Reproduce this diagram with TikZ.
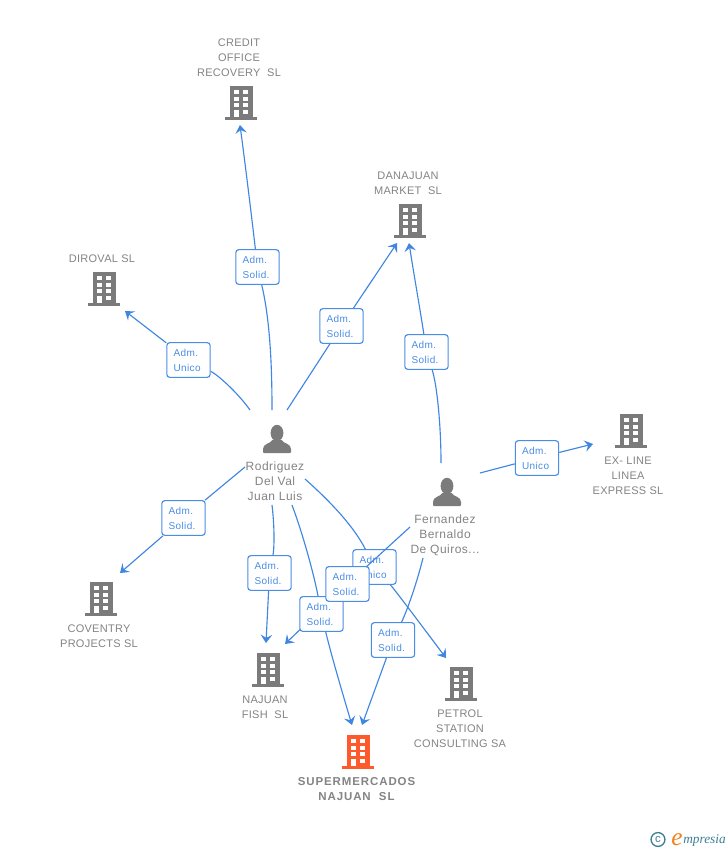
\documentclass[tikz,border=0pt]{standalone}
\usepackage{fontspec}
\setmainfont{Liberation Sans}
\newfontfamily\namefont[LetterSpace=2.5]{Liberation Sans}
\newfontfamily\spacedfont[LetterSpace=4]{Liberation Sans}
\newfontfamily\tagfont[LetterSpace=4]{Liberation Sans}
\newfontfamily\boldspaced[LetterSpace=8]{Liberation Sans Bold}
\newfontfamily\logofont{Liberation Serif Italic}
\usetikzlibrary{arrows.meta,backgrounds}
\definecolor{bgray}{HTML}{7B7B7B}
\definecolor{tgray}{HTML}{848484}
\definecolor{linkblue}{HTML}{3F86E3}
\definecolor{tagblue}{HTML}{4A8DE6}
\definecolor{hotorange}{HTML}{FF5A2B}
\definecolor{logoteal}{HTML}{3E7F96}
\definecolor{logoorange}{HTML}{F0831E}
\tikzset{
  x=0.75pt,y=-0.75pt,
  bldg/.pic={
    \fill[pic actions] (-11.5,-34) rectangle (11.5,-3);
    \fill[pic actions] (-16,-3) rectangle (16,0);
    \foreach \yy in {-30,-23.5,-17}{
      \fill[white] (-7.3,\yy) rectangle (-2.2,\yy+4);
      \fill[white] (2.3,\yy) rectangle (7.3,\yy+4);
    }
    \fill[white] (-7.3,-10.5) rectangle (-2.2,-3);
    \fill[white] (2.3,-10.5) rectangle (7.3,-6.5);
  },
  pers/.pic={
    \fill[bgray] (0,-20) ellipse [x radius=6.4,y radius=8.2];
    \fill[bgray] (-14,-1) -- (-14,-4) .. controls (-14,-9.5) and (-7,-9) .. (-4.5,-13)
      -- (4.5,-13) .. controls (7,-9) and (14,-9.5) .. (14,-4) -- (14,-1)
      .. controls (14,-0.3) and (13.5,0) .. (13,0) -- (-13,0)
      .. controls (-13.5,0) and (-14,-0.3) .. (-14,-1) -- cycle;
  },
  namelabel/.style={align=center,text=tgray,font=\fontsize{8.25pt}{11.25pt}\selectfont\namefont,inner sep=0pt},
  personlabel/.style={align=center,text=tgray,font=\fontsize{9pt}{11.25pt}\selectfont\spacedfont,inner sep=0pt},
  hotlabel/.style={align=center,text=tgray,font=\fontsize{8.6pt}{11.25pt}\selectfont\boldspaced,inner sep=0pt},
  tag/.style={draw=tagblue,fill=white,rounded corners=2.2pt,line width=0.85pt,
    minimum width=32.5pt,minimum height=26pt,inner xsep=5pt,inner ysep=0pt,
    text width=22.5pt,align=left,text=tagblue,font=\fontsize{7.5pt}{11.25pt}\selectfont\tagfont},
  link/.style={draw=linkblue,line width=0.85pt},
  arrowlink/.style={link,-{Stealth[length=6.2pt,width=8.6pt,inset=2.4pt]}},
}
\begin{document}
\begin{tikzpicture}
\useasboundingbox (0,0) rectangle (728,850);
\begin{scope}[on background layer]
  \fill[white] (0,0) rectangle (728,850);
\end{scope}

% company icons
\pic[fill=bgray] at (241,120) {bldg};
\pic[fill=bgray] at (410,238) {bldg};
\pic[fill=bgray] at (104,306) {bldg};
\pic[fill=bgray] at (631,448) {bldg};
\pic[fill=bgray] at (101,616) {bldg};
\pic[fill=bgray] at (268,687) {bldg};
\pic[fill=bgray] at (461,701) {bldg};
\pic[fill=hotorange] at (358,769) {bldg};
% person icons
\pic at (277,453) {pers};
\pic at (447,506) {pers};

% names
\node[namelabel] (credit) at (239,58) {CREDIT\\OFFICE\\RECOVERY\ \ SL};
\node[namelabel] (danajuan) at (408,183) {DANAJUAN\\MARKET\ \ SL};
\node[namelabel] (diroval) at (102,259) {DIROVAL SL};
\node[namelabel] (exline) at (628,476) {EX- LINE\\LINEA\\EXPRESS SL};
\node[namelabel] (coventry) at (99,636) {COVENTRY\\PROJECTS SL};
\node[namelabel] (fish) at (265,707) {NAJUAN\\FISH\ \ SL};
\node[namelabel] (petrol) at (460,729) {PETROL\\STATION\\CONSULTING SA};
\node[hotlabel] (super) at (356.5,789) {SUPERMERCADOS\\NAJUAN\ \ SL};
\node[personlabel] (rodriguez) at (275,481) {Rodriguez\\Del Val\\Juan Luis};
\node[personlabel] (fernandez) at (445,535) {Fernandez\\Bernaldo\\De Quiros...};

% connector ends
\coordinate (r1) at (272,410);
\coordinate (r2) at (287,410);
\coordinate (r3) at (250,410);
\coordinate (r4) at (245,467);
\coordinate (r5) at (272,505);
\coordinate (r6) at (292,505);
\coordinate (r7) at (305,479);
\coordinate (f1) at (441,463);
\coordinate (f2) at (480,473);
\coordinate (f3) at (410,527);
\coordinate (f4) at (423,558);
\coordinate (creditin) at (240,125);
\coordinate (danaa) at (397,243);
\coordinate (danab) at (409,243);
\coordinate (dirovalin) at (125,311);
\coordinate (coventryin) at (120,573);
\coordinate (fisha) at (266,643);
\coordinate (fishb) at (285,644);
\coordinate (supera) at (352,725);
\coordinate (superb) at (362,725);
\coordinate (petrolin) at (446,658);
\coordinate (exlinein) at (593,444);
\coordinate (t10c) at (347.5,584);

% role tags
\node[tag] (t1) at (257.5,267) {Adm.\\Solid.};
\node[tag] (t2) at (341.5,326) {Adm.\\Solid.};
\node[tag] (t3) at (188.5,360) {Adm.\\Unico};
\node[tag] (t4) at (426.5,352) {Adm.\\Solid.};
\node[tag] (t5) at (537,458) {Adm.\\Unico};
\node[tag] (t6) at (183.5,518) {Adm.\\Solid.};
\node[tag] (t7) at (269.5,573) {Adm.\\Solid.};
\node[tag] (t8) at (321.5,614) {Adm.\\Solid.};
\node[tag] (t9) at (374.5,567) {Adm.\\Unico};
\draw[link] (f3) -- (t10c);
\node[tag] (t10) at (t10c) {Adm.\\Solid.};
\node[tag] (t11) at (393,640) {Adm.\\Solid.};

\begin{scope}[on background layer]
  \draw[link] (r1) .. controls (272,365) and (270,320) .. (t1);
  \draw[arrowlink] (t1) .. controls (252,220) and (246,170) .. (creditin);
  \draw[link] (r2) -- (t2);
  \draw[arrowlink] (t2) -- (danaa);
  \draw[link] (r3) .. controls (238,393) and (218,375) .. (t3);
  \draw[arrowlink] (t3) -- (dirovalin);
  \draw[link] (r4) -- (t6);
  \draw[arrowlink] (t6) -- (coventryin);
  \draw[link] (r5) .. controls (275,530) and (274,550) .. (t7);
  \draw[arrowlink] (t7) -- (fisha);
  \draw[link] (r6) .. controls (305,540) and (315,580) .. (t8);
  \draw[arrowlink] (t8) .. controls (330,650) and (340,685) .. (supera);
  \draw[link] (r7) .. controls (332,503) and (354,527) .. (t9);
  \draw[arrowlink] (t9) .. controls (395,590) and (425,630) .. (petrolin);
  \draw[link] (f1) .. controls (441,425) and (437,385) .. (t4);
  \draw[arrowlink] (t4) .. controls (421,315) and (414,275) .. (danab);
  \draw[link] (f2) -- (t5);
  \draw[arrowlink] (t5) -- (exlinein);
  \draw[arrowlink] (t10) -- (fishb);
  \draw[link] (f4) .. controls (415,590) and (405,615) .. (t11);
  \draw[arrowlink] (t11) -- (superb);
\end{scope}

% logo
\node[circle,draw=logoteal,line width=1pt,minimum size=10.4pt,inner sep=0pt,text=logoteal,
  font=\fontsize{8.5pt}{8.5pt}\selectfont] (copy) at (658,839.5) {c};
\node[anchor=base west,inner sep=0pt,text=logoorange,font=\fontsize{19pt}{19pt}\selectfont\logofont] (loge) at (671,845) {e};
\node[anchor=base west,inner sep=0pt,text=logoteal,font=\fontsize{10pt}{10pt}\selectfont\logofont] (logt) at (683,843.5) {mpresia};
\end{tikzpicture}
\end{document}
